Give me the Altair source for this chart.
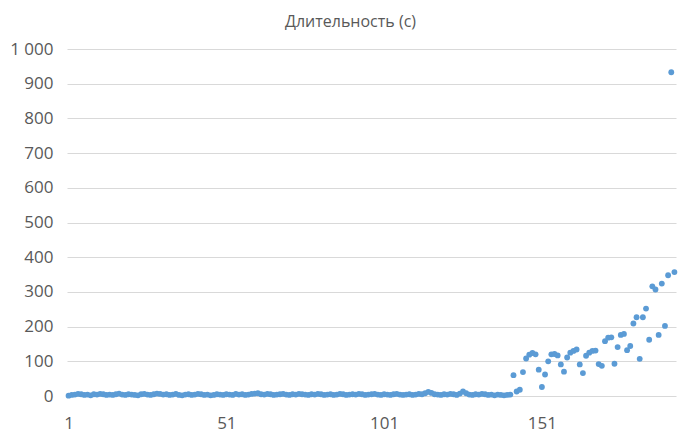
import altair as alt
import pandas as pd

# Durations (s)
baseline = [
    1, 3, 4, 6, 5, 3, 4, 2, 5, 4,
    6, 5, 3, 4, 3, 5, 7, 4, 3, 5,
    4, 3, 2, 5, 6, 4, 3, 5, 7, 6,
    4, 5, 3, 4, 6, 3, 2, 4, 5, 3,
    4, 6, 5, 3, 4, 2, 3, 5, 4, 3,
    5, 4, 3, 6, 4, 5, 3, 4, 6, 7,
    8, 5, 4, 6, 5, 3, 4, 5, 6, 4,
    3, 5, 4, 6, 5, 4, 3, 5, 4, 6,
    5, 3, 4, 5, 3, 4, 6, 5, 3, 4,
    5, 4, 6, 5, 3, 4, 5, 6, 4, 3,
    5, 4, 3, 5, 6, 4, 3, 4, 5, 3,
    4, 6, 5, 8, 12, 9, 5, 4, 3, 5,
    4, 6, 5, 3, 7, 13, 8, 4, 3, 5,
    4, 6, 5, 3, 4, 2, 4, 3, 2, 3,
    4,
]
tail = [
    60, 13, 18, 69, 108, 119, 124, 120, 76, 26,
    62, 100, 120, 121, 117, 91, 70, 111, 125, 130,
    134, 91, 66, 116, 125, 130, 131, 92, 87, 158,
    168, 169, 93, 141, 176, 179, 132, 144, 209, 227,
    107, 227, 252, 162, 316, 307, 176, 324, 202, 348,
    933, 357,
]
values = baseline + tail
n = len(values)
index = list(range(1, n + 1))
x_ticks = [1, 51, 101, 151]
y_ticks = list(range(0, 1001, 100))

df = pd.DataFrame({"i": index, "v": values})

FONT = "Open Sans"
TXT = "#595959"

chart = alt.Chart(df).mark_circle(size=34, opacity=1, color="#5B9BD5").encode(
    x=alt.X(
        "i:Q",
        scale=alt.Scale(domain=[0.5, n + 0.5], nice=False, zero=False),
        axis=alt.Axis(
            values=x_ticks, grid=False, domain=False, ticks=False,
            labelPadding=19, title=None, labelFontSize=17, labelColor=TXT,
            labelFont=FONT, labelFlush=False,
        ),
    ),
    y=alt.Y(
        "v:Q",
        scale=alt.Scale(domain=[0, 1000], nice=False),
        axis=alt.Axis(
            values=y_ticks, grid=True, gridColor="#d9d9d9", gridWidth=1,
            domain=False, ticks=False, labelPadding=14, title=None,
            labelFontSize=17, labelColor=TXT, labelFont=FONT,
            labelExpr="replace(format(datum.value, ','), ',', ' ')",
        ),
    ),
).properties(
    width=609,
    height=347,
    title=alt.Title(
        "Длительность (с)", font=FONT, fontSize=16, fontWeight="normal",
        color=TXT, anchor="middle", dx=-21, offset=10,
    ),
    padding={"left": 59, "top": 41, "right": 16, "bottom": 40},
    autosize="none",
).configure_view(stroke=None)

chart.save("out.html", embed_options={"renderer": "svg", "actions": False})
